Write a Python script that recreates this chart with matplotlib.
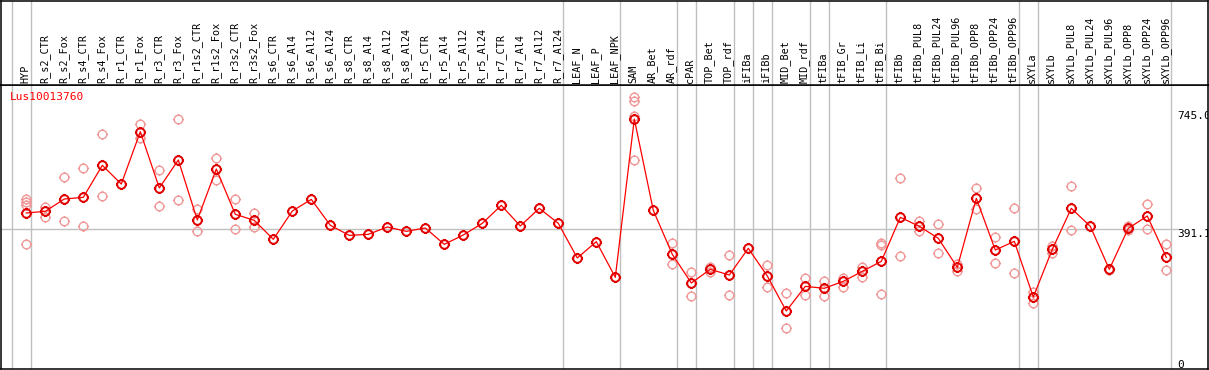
import numpy as np
import matplotlib
matplotlib.use("Agg")
import matplotlib.pyplot as plt
from matplotlib.path import Path

# sample names, one column each
samples = ["HYP", "R_s2_CTR", "R_s2_Fox", "R_s4_CTR", "R_s4_Fox", "R_r1_CTR", "R_r1_Fox",
           "R_r3_CTR", "R_r3_Fox", "R_r1s2_CTR", "R_r1s2_Fox", "R_r3s2_CTR", "R_r3s2_Fox",
           "R_s6_CTR", "R_s6_Al4", "R_s6_Al12", "R_s6_Al24", "R_s8_CTR", "R_s8_Al4",
           "R_s8_Al12", "R_s8_Al24", "R_r5_CTR", "R_r5_Al4", "R_r5_Al12", "R_r5_Al24",
           "R_r7_CTR", "R_r7_Al4", "R_r7_Al12", "R_r7_Al24", "LEAF_N", "LEAF_P", "LEAF_NPK",
           "SAM", "AR_Bet", "AR_rdf", "cPAR", "TOP_Bet", "TOP_rdf", "iFIBa", "iFIBb",
           "MID_Bet", "MID_rdf", "tFIBa", "tFIB_Gr", "tFIB_Li", "tFIB_Bi", "tFIBb",
           "tFIBb_PUL8", "tFIBb_PUL24", "tFIBb_PUL96", "tFIBb_OPP8", "tFIBb_OPP24",
           "tFIBb_OPP96", "sXYLa", "sXYLb", "sXYLb_PUL8", "sXYLb_PUL24", "sXYLb_PUL96",
           "sXYLb_OPP8", "sXYLb_OPP24", "sXYLb_OPP96"]

# mean expression per sample
means = [438.4, 443.3, 480.3, 485.2, 581.0, 525.1, 681.7, 513.2, 597.0, 417.4, 570.0,
         434.4, 416.4, 359.6, 444.3, 479.2, 401.5, 371.5, 374.5, 396.5, 383.5, 393.5,
         344.6, 372.5, 407.4, 461.3, 399.5, 452.3, 407.4, 303.7, 352.6, 245.9, 719.6,
         446.3, 314.7, 228.9, 269.8, 252.8, 332.6, 249.9, 145.1, 218.9, 213.0, 233.9,
         263.8, 293.7, 425.4, 398.5, 362.6, 275.8, 482.2, 327.6, 353.6, 187.0, 329.6,
         452.3, 398.5, 269.8, 392.5, 429.4, 305.7]

# individual replicates (empty where they sit under the mean)
replicates = [[479.2, 470.3, 462.3, 345.6], [455.3, 425.4], [545.1, 414.4], [572.0, 398.5],
              [673.7, 489.2], [], [703.7, 661.8], [567.0, 459.3], [718.6, 477.3],
              [449.3, 383.5], [601.9, 537.1], [480.3, 389.5], [438.4, 397.5],
              [], [], [], [], [], [], [], [], [], [], [], [], [], [], [], [], [], [], [],
              [784.5, 774.5, 728.6, 596.0], [], [347.6, 284.8], [262.8, 189.0],
              [277.8, 262.0], [312.7, 192.0], [], [281.8, 215.9], [198.0, 93.3],
              [242.9, 193.0], [234.9, 189.0], [244.9, 217.9], [275.8, 247.9],
              [349.6, 342.6, 195.0], [542.1, 309.7], [415.4, 383.5], [404.5, 318.7],
              [286.8, 264.8], [513.2, 449.3], [366.5, 288.8], [452.3, 258.8],
              [201.0, 168.1], [340.6, 317.7], [518.2, 386.5], [], [272.0, 267.0],
              [399.5, 386.5], [465.3, 389.5], [345.6, 266.8]]

group_ends = ["HYP", "R_r7_Al24", "LEAF_NPK", "AR_rdf", "cPAR", "TOP_rdf", "iFIBa",
              "iFIBb", "MID_rdf", "tFIBa", "tFIB_Bi", "tFIBb_OPP96", "sXYLa", "sXYLb_OPP96"]
gene = "Lus10013760"
y_labels = [745.0, 391.1, 0]
ref_level = 391.1

W, H = 1209, 370
fig = plt.figure(figsize=(W / 100, H / 100), dpi=100)
mono = "DejaVu Sans Mono"

# pixel helpers: column i sits at 26.3 + 19*i px, value v at 359.5 - 0.3342*v px
xlim = ((1 - 26.3) / 19, (1208 - 26.3) / 19)
ylim = ((359.5 - 369) / 0.3342, (359.5 - 85) / 0.3342)

ax = fig.add_axes([1 / W, 1 / H, 1207 / W, 284 / H])
hd = fig.add_axes([1 / W, 285 / H, 1207 / W, 84.5 / H])
for a in (ax, hd):
    a.set_xlim(*xlim)
    a.set_xticks([])
    a.set_yticks([])
    for s in a.spines.values():
        s.set_linewidth(1.1)
        s.set_color("black")
ax.set_ylim(*ylim)
hd.set_ylim(0, 1)

# group separators
idx = {n: i for i, n in enumerate(samples)}
seps = [-1] + [idx[n] for n in group_ends]
for s in seps:
    for a in (ax, hd):
        a.axvline(s + 0.23, color="#c0c0c0", lw=1.0, zorder=0)

ax.axhline(ref_level, xmin=0, xmax=(1178 - 1) / 1207, color="#c0c0c0", lw=1.0, zorder=0)

# circle with four little ticks
circ = Path.unit_circle()
ticks = Path([(0, 1), (0, 1.3), (0, -1), (0, -1.3), (1, 0), (1.3, 0), (-1, 0), (-1.3, 0)],
             [Path.MOVETO, Path.LINETO] * 4)
gear = Path.make_compound_path(circ, ticks)

x = np.arange(len(samples))
rx = [i for i, r in enumerate(replicates) for _ in r]
ry = [v for r in replicates for v in r]
ax.plot(rx, ry, ls="none", marker=gear, ms=8, mfc="none", mec="#f09898", mew=1.0, zorder=2)
ax.plot(x, means, color="#ff0000", lw=0.9, zorder=3)
ax.plot(x, means, ls="none", marker=gear, ms=8, mfc="none", mec="#e00000", mew=1.4, zorder=4)

ax.text((9.5 - 26.3) / 19, (359.5 - 92) / 0.3342, gene, color="red", family=mono,
        fontsize=8, ha="left", va="top")

for v in y_labels:
    ax.text((1177 - 26.3) / 19, v, f"{v:.1f}" if v else "0", family=mono, fontsize=8,
            ha="left", va="top", clip_on=True, zorder=5)

for i, n in enumerate(samples):
    hd.text(i - 0.05, 0.02, n, rotation=90, ha="center", va="bottom", family=mono,
            fontsize=7.3)

fig.savefig("out.png", dpi=100)
